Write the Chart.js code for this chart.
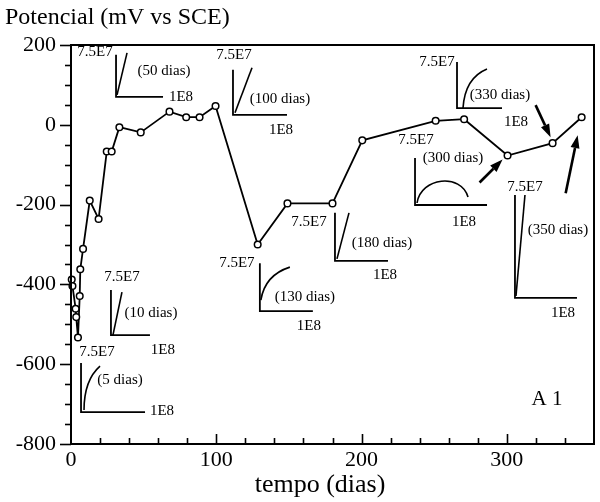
<!DOCTYPE html>
<html><head><meta charset="utf-8">
<script src="https://cdn.jsdelivr.net/npm/chart.js@4.4.1/dist/chart.umd.min.js"></script>
<style>html,body{margin:0;padding:0;background:#fff;} #wrap{width:600px;height:502px;}</style>
</head><body><div id="wrap"><canvas id="c" width="600" height="502"></canvas></div>
<script>
// ---- data ----
const days      = [0.5, 1.0, 3.2, 3.6, 4.8, 6.0, 6.4, 8.3, 12.9, 19.0, 24.6, 28.0, 33.3, 48.0, 67.8, 79.3, 88.5, 99.5, 128.5, 149.0, 180.0, 200.5, 251.0, 270.6, 300.5, 331.5, 351.5];
const potential = [-388, -404, -461, -482, -533, -429, -362, -311, -190, -236, -67, -67, -6, -19, 33, 19, 19, 47, -300, -197, -197, -39, 10, 14, -77, -46, 19];
const xTickValues = [0, 100, 200, 300];
const yTickValues = [-800, -600, -400, -200, 0, 200];
const insetLabels = ['(5 dias)', '(10 dias)', '(50 dias)', '(100 dias)', '(130 dias)', '(180 dias)', '(300 dias)', '(330 dias)', '(350 dias)'];
const insetTop = '7.5E7';
const insetRight = '1E8';
const yTitle = 'Potencial (mV vs SCE)';
const xTitle = 'tempo (dias)';
const panelLabel = 'A 1';

// ---- inset layout (anchor in data coords, geometry in px offsets) ----
const insetLayout = [
  {at:[6.9,-720],  v:49,  h:64, shape:[[3,-2],[3,-32],[19,-46]],          top:[16,-60], mid:[39,-32], one:[81,-1]},
  {at:[27.5,-527], v:45,  h:39, shape:[[2,0],[11,-43]],                   top:[11,-58], mid:[40,-22], one:[52,15]},
  {at:[31,70],     v:42,  h:47, shape:[[1,-2],[11,-44]],                  top:[-21,-45], mid:[48,-26], one:[65,0]},
  {at:[111.5,25],  v:45,  h:54, shape:[[2,-2],[19,-47]],                  top:[1,-60], mid:[47,-16], one:[48,15]},
  {at:[130,-467],  v:48,  h:53, shape:[[1,-11],[5,-36],[30,-44]],         top:[-23,-48], mid:[45,-14], one:[49,15]},
  {at:[181.7,-341],v:48,  h:53, shape:[[2,-2],[14,-48]],                  top:[-26,-39], mid:[47,-18], one:[50,14]},
  {at:[236.8,-201],v:47,  h:72, shape:[[2,-2],[6,-28],[46,-32],[53,-8]],  top:[1,-65], mid:[38,-47], one:[49,17]},
  {at:[265.7,42],  v:46,  h:45, shape:[[6,0],[8,-30],[30,-39]],           top:[-20,-46], mid:[43,-13], one:[59,14]},
  {at:[305.6,-434],v:103, h:62, shape:[[1,-2],[10,-103]],                 top:[10,-111], mid:[43,-68], one:[48,15]}
];
const arrowLayout = [
  {point:24, head:[-5,4],  tail:[-28,27]},
  {point:25, head:[-2,-6], tail:[-17,-38]},
  {point:26, head:[-4,18], tail:[-16,76]}
];

const SERIF = '"Liberation Serif", "DejaVu Serif", serif';

const decor = {
  id: 'decor',
  afterDraw(chart) {
    const ctx = chart.ctx, xs = chart.scales.x, ys = chart.scales.y, ca = chart.chartArea;
    ctx.save();
    ctx.strokeStyle = '#000'; ctx.fillStyle = '#000';
    // frame
    ctx.lineWidth = 2;
    ctx.strokeRect(ca.left, ca.top, ca.right - ca.left, ca.bottom - ca.top);
    // x ticks (inward)
    ctx.lineWidth = 1.6;
    for (let v = 20; v < 360; v += 20) {
      const px = Math.round(xs.getPixelForValue(v)) + 0.5;
      const len = (v % 100 === 0) ? 10 : 6;
      ctx.beginPath(); ctx.moveTo(px, ca.bottom); ctx.lineTo(px, ca.bottom - len); ctx.stroke();
    }
    // y ticks (outward)
    for (let v = -800; v <= 200; v += 50) {
      const py = Math.round(ys.getPixelForValue(v)) + 0.5;
      const len = (v % 200 === 0) ? 11 : 6;
      ctx.beginPath(); ctx.moveTo(ca.left, py); ctx.lineTo(ca.left - len, py); ctx.stroke();
    }
    // insets
    ctx.textAlign = 'center'; ctx.textBaseline = 'middle';
    insetLayout.forEach((L, i) => {
      const ox = xs.getPixelForValue(L.at[0]), oy = ys.getPixelForValue(L.at[1]);
      ctx.lineWidth = 1.8;
      ctx.beginPath();
      ctx.moveTo(ox, oy - L.v); ctx.lineTo(ox, oy); ctx.lineTo(ox + L.h, oy);
      ctx.stroke();
      const p = L.shape.map(q => [ox + q[0], oy + q[1]]);
      ctx.lineWidth = 1.6;
      ctx.beginPath();
      ctx.moveTo(p[0][0], p[0][1]);
      if (p.length === 2) ctx.lineTo(p[1][0], p[1][1]);
      else if (p.length === 3) ctx.quadraticCurveTo(p[1][0], p[1][1], p[2][0], p[2][1]);
      else ctx.bezierCurveTo(p[1][0], p[1][1], p[2][0], p[2][1], p[3][0], p[3][1]);
      ctx.stroke();
      ctx.font = '15px ' + SERIF;
      ctx.fillText(insetTop, ox + L.top[0], oy + L.top[1]);
      ctx.fillText(insetLabels[i], ox + L.mid[0], oy + L.mid[1]);
      ctx.fillText(insetRight, ox + L.one[0], oy + L.one[1]);
    });
    // arrows
    arrowLayout.forEach(A => {
      const px = xs.getPixelForValue(days[A.point]), py = ys.getPixelForValue(potential[A.point]);
      const hx = px + A.head[0], hy = py + A.head[1], tx = px + A.tail[0], ty = py + A.tail[1];
      const ang = Math.atan2(hy - ty, hx - tx), hl = 13, hw = 4.5;
      const bx = hx - hl * Math.cos(ang), by = hy - hl * Math.sin(ang);
      ctx.lineWidth = 2.6;
      ctx.beginPath(); ctx.moveTo(tx, ty); ctx.lineTo(bx, by); ctx.stroke();
      ctx.beginPath();
      ctx.moveTo(hx, hy);
      ctx.lineTo(bx + hw * Math.sin(ang), by - hw * Math.cos(ang));
      ctx.lineTo(bx - hw * Math.sin(ang), by + hw * Math.cos(ang));
      ctx.closePath(); ctx.fill();
    });
    // titles
    ctx.textAlign = 'left';
    ctx.font = '24px ' + SERIF;
    ctx.fillText(yTitle, 5, 18);
    ctx.textAlign = 'center';
    ctx.font = '26px ' + SERIF;
    ctx.fillText(xTitle, 320, 485);
    ctx.font = '21px ' + SERIF;
    ctx.fillText(panelLabel, ca.right - 47, ys.getPixelForValue(-688));
    ctx.restore();
  }
};

const tickFont = {family: SERIF, size: 22};
new Chart(document.getElementById('c'), {
  type: 'line',
  data: {
    datasets: [{
      data: days.map((d, i) => ({x: d, y: potential[i]})),
      borderColor: '#000', borderWidth: 1.8, tension: 0,
      pointRadius: 3.3, pointBorderWidth: 1.5, pointBorderColor: '#000', pointBackgroundColor: '#fff',
      clip: false
    }]
  },
  options: {
    responsive: false, animation: false,
    layout: {padding: {top: 45, right: 6, bottom: 0, left: 0}},
    plugins: {legend: {display: false}, tooltip: {enabled: false}},
    scales: {
      x: {
        type: 'linear', min: 0, max: 360,
        afterFit: s => { s.height = 58; },
        afterBuildTicks: s => { s.ticks = xTickValues.map(v => ({value: v})); },
        grid: {display: false, drawTicks: false}, border: {display: false},
        ticks: {padding: 3, autoSkip: false, maxRotation: 0, color: '#000', font: tickFont, callback: v => String(v)}
      },
      y: {
        type: 'linear', min: -800, max: 200,
        afterFit: s => { s.width = 71; },
        afterBuildTicks: s => { s.ticks = yTickValues.map(v => ({value: v})); },
        grid: {display: false, drawTicks: false}, border: {display: false},
        ticks: {padding: 15, color: '#000', font: tickFont, callback: v => String(v)}
      }
    }
  },
  plugins: [decor]
});
</script></body></html>
